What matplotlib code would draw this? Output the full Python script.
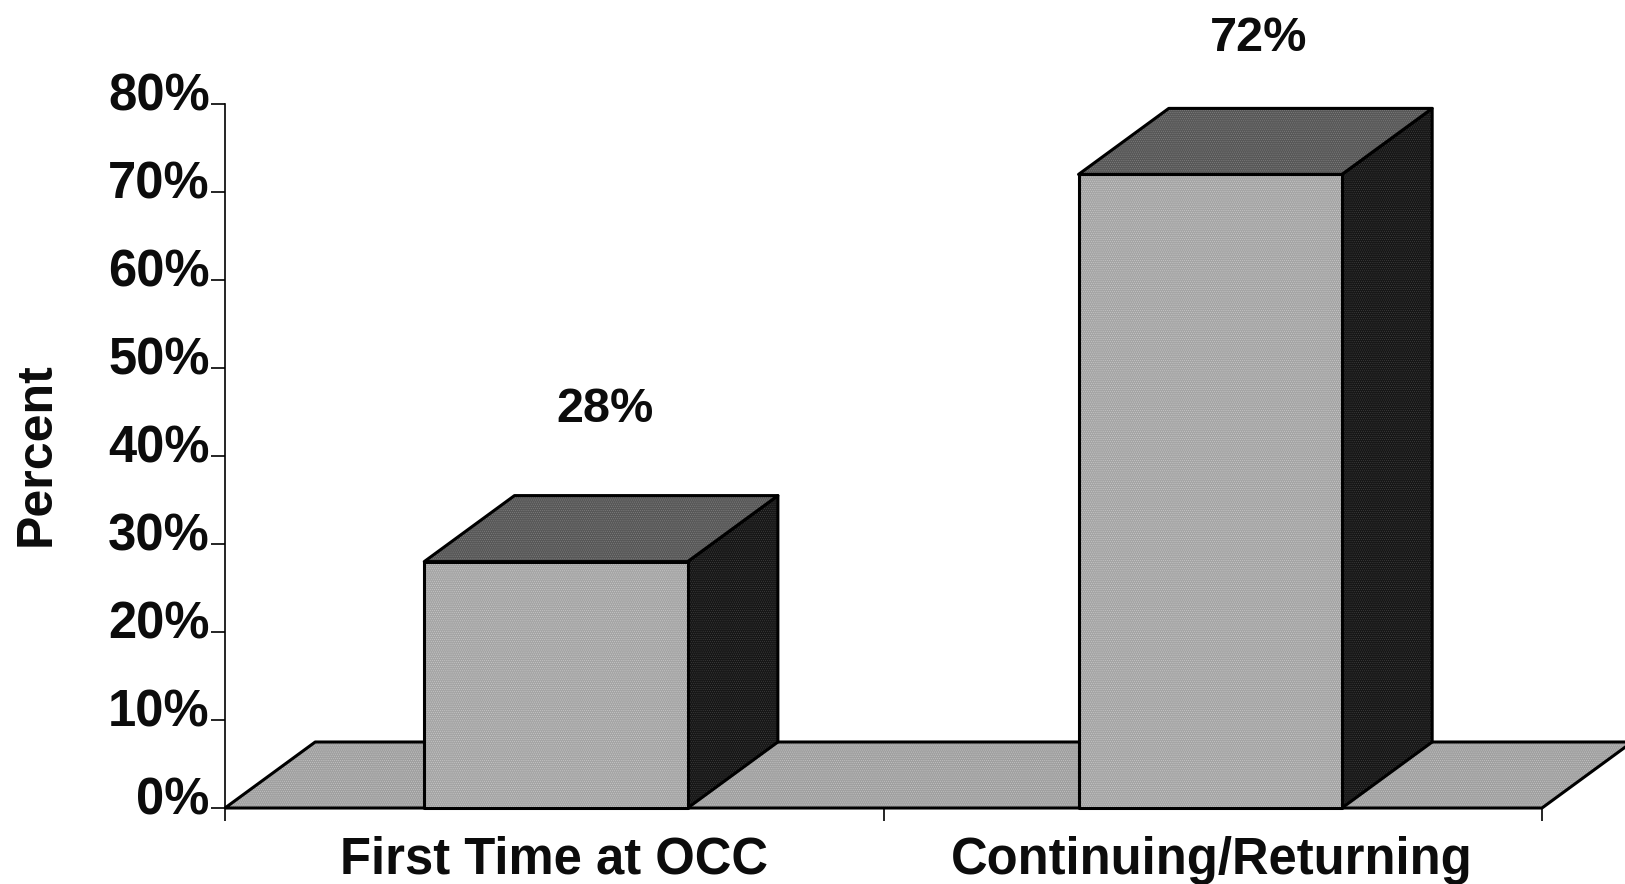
import matplotlib
matplotlib.use("Agg")
import matplotlib.pyplot as plt
from matplotlib.patches import Polygon
from matplotlib.transforms import ScaledTranslation

categories = ["First Time at OCC", "Continuing/Returning"]
values = [28, 72]
value_labels = ["28%", "72%"]
y_ticks = [0, 10, 20, 30, 40, 50, 60, 70, 80]
y_tick_labels = ["0%", "10%", "20%", "30%", "40%", "50%", "60%", "70%", "80%"]
y_title = "Percent"

W, H = 1625, 884
plt.rcParams["font.family"] = ["Liberation Sans", "DejaVu Sans"]
plt.rcParams["font.weight"] = "bold"
plt.rcParams["hatch.linewidth"] = 0.3
INK = "#0c0c0c"
FRONT, TOP, SIDE, FLOOR = "#a5a5a5", "#585858", "#171717", "#a0a0a0"
GRAIN = {FRONT: "#d2d2d2", TOP: "#8a8a8a", SIDE: "#4a4a4a", FLOOR: "#cfcfcf"}
LW = 2.2

fig = plt.figure(figsize=(W / 100, H / 100), dpi=100)
ax = fig.add_axes([225 / W, 1 - 808 / H, (1542 - 225) / W, (808 - 104) / H])
ax.set_xlim(0, 2)
ax.set_ylim(0, 80)
ax.patch.set_alpha(0)

DX, DY = 0.137, 7.5      # oblique depth of the 3-D projection
BAR_W = 0.40
centers = [0.5026, 1.4962]

def face(points, color, z):
    # fill with a fine grain to suggest the scanned dither, then a crisp outline
    ax.add_patch(Polygon(points, closed=True, facecolor=color, edgecolor=GRAIN[color],
                         hatch="........", linewidth=0, zorder=z, clip_on=False))
    ax.add_patch(Polygon(points, closed=True, facecolor="none", edgecolor="black",
                         linewidth=LW, joinstyle="round", zorder=z, clip_on=False))

# floor
face([(0, 0), (2, 0), (2 + DX, DY), (DX, DY)], FLOOR, 2)

# bars
for c, v in zip(centers, values):
    l, r = c - BAR_W / 2, c + BAR_W / 2
    face([(r, 0), (r + DX, DY), (r + DX, v + DY), (r, v)], SIDE, 3)
    face([(l, v), (r, v), (r + DX, v + DY), (l + DX, v + DY)], TOP, 3)
    face([(l, 0), (r, 0), (r, v), (l, v)], FRONT, 4)

# value labels
label_lift = [152, 136]  # pixels above the front top edge
for c, v, t, lift in zip(centers, values, value_labels, label_lift):
    ax.annotate(t, (c, v), xytext=(35, lift * 0.72), textcoords="offset points",
                ha="center", va="center", fontsize=35, color=INK,
                fontweight="bold", annotation_clip=False, zorder=6)

# axes
for s in ("top", "right"):
    ax.spines[s].set_visible(False)
for s in ("left", "bottom"):
    ax.spines[s].set_linewidth(1.2)
    ax.spines[s].set_color("black")
ax.set_yticks(y_ticks)
ax.set_yticklabels(y_tick_labels, fontsize=36.5, color=INK, fontweight="bold")
ax.tick_params(axis="y", length=10, width=1.2, pad=1)
shift = ScaledTranslation(0, 12.5 / 100, fig.dpi_scale_trans)
for lab in ax.get_yticklabels():
    lab.set_transform(lab.get_transform() + shift)
ax.set_xticks([0, 1, 2])
ax.set_xticklabels([])
ax.tick_params(axis="x", which="major", length=9, width=1.2)
ax.set_xticks([0.4995, 1.4985], minor=True)
ax.set_xticklabels(categories, minor=True, fontsize=36.5, color=INK, fontweight="bold")
ax.tick_params(axis="x", which="minor", length=0, pad=20)

fig.text(37 / W, 1 - 454 / H, y_title, rotation=90, ha="center", va="center",
         fontsize=36, color=INK, fontweight="bold")

fig.savefig("out.png", dpi=100, facecolor="white")
